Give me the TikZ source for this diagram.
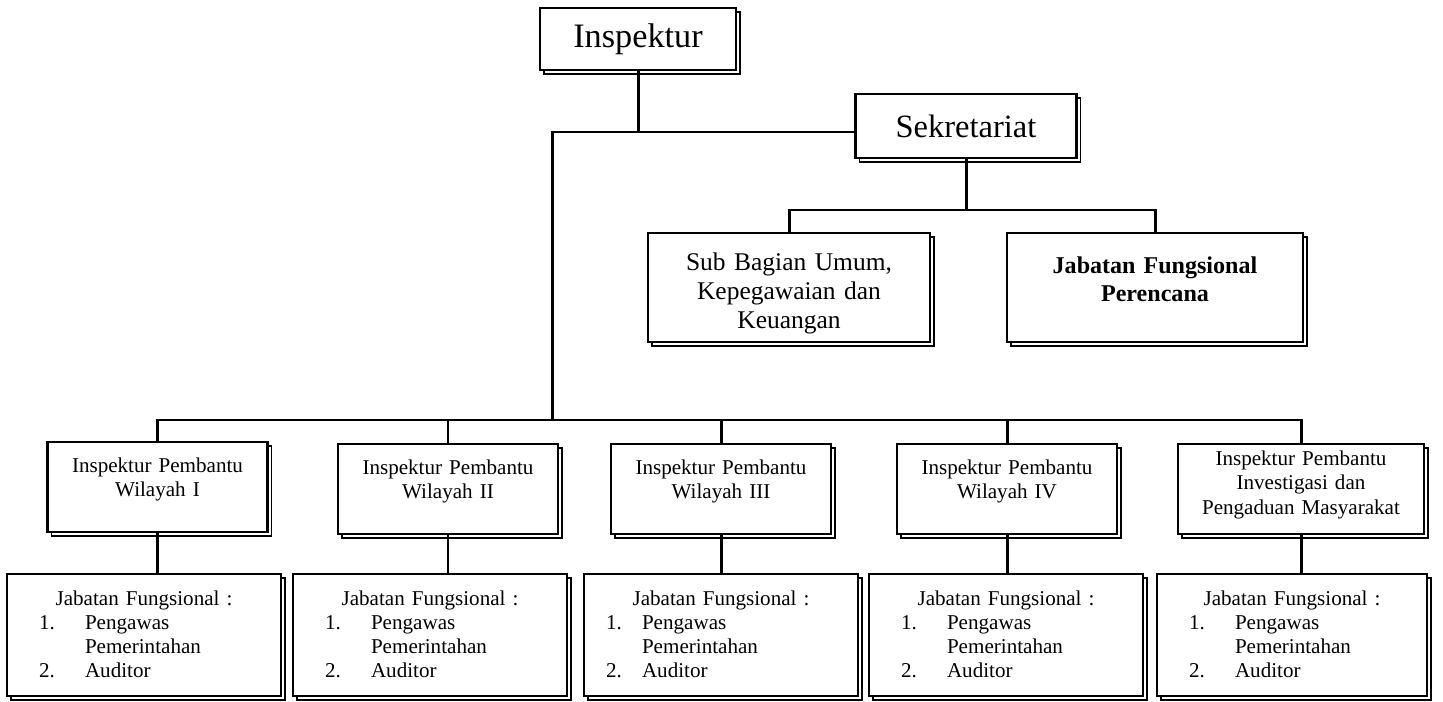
\documentclass[tikz,border=0pt]{standalone}
\usepackage{fontspec}
\setmainfont{Liberation Serif}
\usetikzlibrary{shadows}

\newcommand{\jfisi}[2]{\makebox[\linewidth][c]{Jabatan Fungsional :}\\
\hspace*{#1}\makebox[#2][l]{1.}Pengawas\\
\hspace*{#1}\hspace*{#2}Pemerintahan\\
\hspace*{#1}\makebox[#2][l]{2.}Auditor}

\begin{document}
\begin{tikzpicture}[x=0.02cm,y=-0.02cm,
  kotak/.style={draw,line width=1.3pt,fill=white,inner sep=0pt,
    general shadow={draw=black,fill=white,line width=0.8pt,shadow xshift=0.08cm,shadow yshift=-0.08cm}},
  garis/.style={line width=1.7pt},
  ipbox/.style={kotak,text width=4.4cm,align=center,text height=0.6cm,text depth=1.2cm,font=\fontsize{12}{14}\selectfont},
  jfbox/.style={kotak,text width=5.48cm,align=left,text height=0.62cm,text depth=1.82cm,font=\fontsize{12}{13.8}\selectfont}]
\useasboundingbox (0,0) rectangle (1443,702);

\node[kotak,minimum width=3.92cm,minimum height=1.24cm,font=\fontsize{19.5}{23}\selectfont] (insp) at (638,39) {Inspektur};
\node[kotak,minimum width=4.42cm,minimum height=1.28cm,font=\fontsize{18.5}{22}\selectfont] (sek) at (966,126) {Sekretariat};
\node[kotak,text width=5.64cm,align=center,text height=0.74cm,text depth=1.44cm,font=\fontsize{14.5}{16.6}\selectfont] (subbag) at (789,287.5) {Sub Bagian Umum,\\Kepegawaian dan\\Keuangan};
\node[kotak,text width=5.92cm,align=center,text height=0.8cm,text depth=1.38cm,font=\bfseries\fontsize{13.7}{16.4}\selectfont] (jfp) at (1155,287.5) {Jabatan Fungsional\\Perencana};

\node[ipbox] (ip1) at (157.5,487) {Inspektur Pembantu\\Wilayah I};
\node[ipbox] (ip2) at (448,489) {Inspektur Pembantu\\Wilayah II};
\node[ipbox] (ip3) at (721,489) {Inspektur Pembantu\\Wilayah III};
\node[ipbox] (ip4) at (1007,489) {Inspektur Pembantu\\Wilayah IV};
\node[ipbox,text width=4.92cm,text height=0.42cm,text depth=1.38cm] (ip5) at (1301,489) {Inspektur Pembantu\\Investigasi dan\\Pengaduan Masyarakat};

\node[jfbox] (jf1) at (144,635) {\jfisi{0.64cm}{0.92cm}};
\node[jfbox] (jf2) at (430,635) {\jfisi{0.64cm}{0.92cm}};
\node[jfbox] (jf3) at (721,635) {\jfisi{0.44cm}{0.72cm}};
\node[jfbox] (jf4) at (1006,635) {\jfisi{0.64cm}{0.92cm}};
\node[jfbox,text width=5.4cm] (jf5) at (1292,635) {\jfisi{0.64cm}{0.92cm}};

\coordinate (top) at (552,132);
\coordinate (bus) at (552,420);
\coordinate (sub) at (964,210);

\draw[garis] (insp.south) -- (insp.south |- top);
\draw[garis] (sek.west |- top) -| (bus);
\draw[garis] (sek.south) -- (sek.south |- sub);
\draw[garis] (subbag.north) |- (sub) -| (jfp.north);

\draw[garis] (ip1.north) |- (ip5.north |- bus) -- (ip5.north);
\draw[garis] (ip2.north) -- (ip2.north |- bus);
\draw[garis] (ip3.north) -- (ip3.north |- bus);
\draw[garis] (ip4.north) -- (ip4.north |- bus);

\draw[garis] (ip1.south) -- (ip1.south |- jf1.north);
\draw[garis] (ip2.south) -- (ip2.south |- jf2.north);
\draw[garis] (ip3.south) -- (ip3.south |- jf3.north);
\draw[garis] (ip4.south) -- (ip4.south |- jf4.north);
\draw[garis] (ip5.south) -- (ip5.south |- jf5.north);
\end{tikzpicture}
\end{document}
